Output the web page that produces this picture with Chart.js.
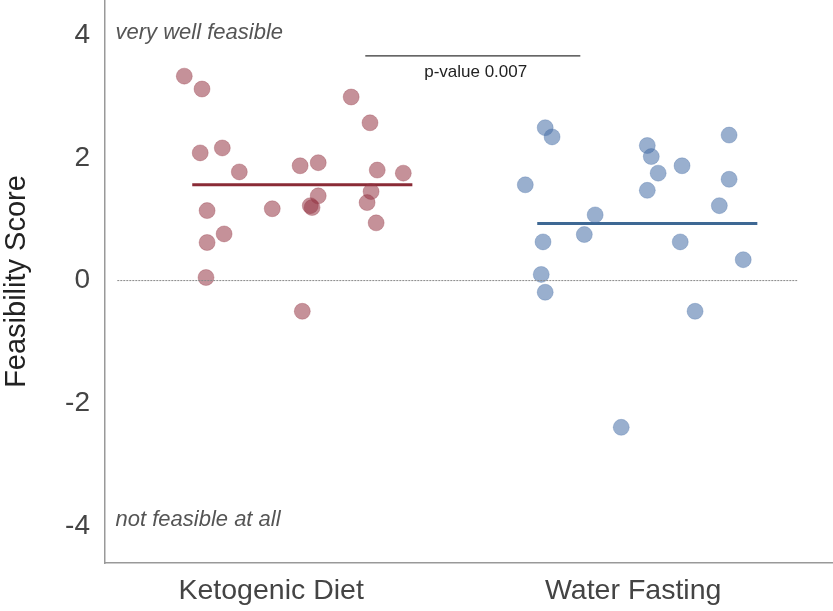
<!DOCTYPE html>
<html>
<head>
<meta charset="utf-8">
<script src="https://cdn.jsdelivr.net/npm/chart.js@4.4.1/dist/chart.umd.min.js"></script>
<style>
  html, body { margin: 0; padding: 0; background: #fff; }
  #wrap { width: 833px; height: 611px; }
</style>
</head>
<body>
<div id="wrap"><canvas id="chart" width="833" height="611"></canvas></div>
<script>
// categories sit at x = 0 and x = 1, points are jittered around them
var categories = ['Ketogenic Diet', 'Water Fasting'];

var ketoJitter = [-0.240, -0.191, -0.196, -0.135, -0.088, 0.080, 0.130, 0.221, 0.273, 0.293, 0.365,
                  -0.177, 0.003, 0.108, 0.113, 0.130, 0.276, 0.265, 0.290, -0.177, -0.130, -0.180, 0.086];
var ketoScores = [3.33, 3.12, 2.08, 2.16, 1.77, 1.87, 1.92, 2.99, 2.57, 1.80, 1.75,
                  1.14, 1.17, 1.22, 1.19, 1.38, 1.45, 1.27, 0.94, 0.62, 0.76, 0.05, -0.50];

var waterJitter = [-0.243, -0.224, -0.298, -0.105, -0.135, -0.249, -0.254, -0.243, 0.039, 0.050,
                   0.069, 0.039, 0.135, 0.265, 0.265, 0.238, 0.130, 0.304, 0.171, -0.033];
var waterScores = [2.49, 2.34, 1.56, 1.07, 0.75, 0.63, 0.10, -0.19, 2.20, 2.02,
                   1.75, 1.47, 1.87, 2.37, 1.65, 1.22, 0.63, 0.34, -0.50, -2.39];

// group means, drawn as short horizontal lines
var groupMeans = [1.56, 0.93];
var meanSpans = [[-0.218, 0.390], [0.735, 1.343]];

// significance bracket
var bracketSpan = [0.26, 0.854];
var bracketY = 3.66;
var pLabel = 'p-value 0.007';

var yTicks = [-4, -2, 0, 2, 4];
var topNote = 'very well feasible';
var bottomNote = 'not feasible at all';

function toPoints(cat, jitter, scores) {
    return scores.map(function (v, i) { return { x: cat + jitter[i], y: v }; });
}

var ketoColor = 'rgba(150, 55, 70, 0.55)';
var waterColor = 'rgba(70, 110, 165, 0.55)';
var fontFam = '"Liberation Sans", Arial, sans-serif';

var notesPlugin = {
    id: 'notes',
    afterDatasetsDraw: function (chart) {
        var ctx = chart.ctx, xs = chart.scales.x, ys = chart.scales.y;
        ctx.save();
        ctx.fillStyle = '#555';
        ctx.font = 'italic 22px ' + fontFam;
        ctx.textAlign = 'left';
        ctx.textBaseline = 'middle';
        ctx.fillText(topNote, xs.getPixelForValue(-0.43), ys.getPixelForValue(4.03));
        ctx.fillText(bottomNote, xs.getPixelForValue(-0.43), ys.getPixelForValue(-3.9));
        ctx.fillStyle = '#222';
        ctx.font = '17px ' + fontFam;
        ctx.textAlign = 'center';
        ctx.fillText(pLabel, xs.getPixelForValue((bracketSpan[0] + bracketSpan[1]) / 2 + 0.008), ys.getPixelForValue(bracketY - 0.27));
        ctx.restore();
    }
};

var ctx = document.getElementById('chart').getContext('2d');
var chart = new Chart(ctx, {
    type: 'scatter',
    data: {
        datasets: [
            {
                type: 'line',
                data: [{ x: -0.425, y: 0 }, { x: 1.453, y: 0 }],
                borderColor: '#888',
                borderWidth: 1,
                borderDash: [2, 1],
                pointRadius: 0,
                fill: false
            },
            {
                data: toPoints(0, ketoJitter, ketoScores),
                backgroundColor: ketoColor,
                borderColor: 'rgba(150, 55, 70, 0.3)',
                borderWidth: 1,
                pointRadius: 8
            },
            {
                data: toPoints(1, waterJitter, waterScores),
                backgroundColor: waterColor,
                borderColor: 'rgba(70, 110, 165, 0.3)',
                borderWidth: 1,
                pointRadius: 8
            },
            {
                type: 'line',
                data: [{ x: meanSpans[0][0], y: groupMeans[0] }, { x: meanSpans[0][1], y: groupMeans[0] }],
                borderColor: '#8a2b36',
                borderWidth: 3,
                pointRadius: 0
            },
            {
                type: 'line',
                data: [{ x: meanSpans[1][0], y: groupMeans[1] }, { x: meanSpans[1][1], y: groupMeans[1] }],
                borderColor: '#3e6894',
                borderWidth: 3,
                pointRadius: 0
            },
            {
                type: 'line',
                data: [{ x: bracketSpan[0], y: bracketY }, { x: bracketSpan[1], y: bracketY }],
                borderColor: '#333',
                borderWidth: 1.2,
                pointRadius: 0
            }
        ]
    },
    options: {
        responsive: false,
        animation: false,
        layout: { padding: 0, autoPadding: false },
        plugins: {
            legend: { display: false },
            tooltip: { enabled: false }
        },
        scales: {
            x: {
                type: 'linear',
                min: -0.459,
                max: 1.552,
                grid: { display: false, drawTicks: false },
                border: { display: true, color: '#999', width: 1.5 },
                afterBuildTicks: function (scale) {
                    scale.ticks = categories.map(function (c, i) { return { value: i }; });
                },
                ticks: {
                    color: '#444',
                    padding: 11,
                    font: { family: fontFam, size: 28.5 },
                    callback: function (v) { return categories[v]; }
                },
                afterFit: function (scale) {
                    scale.height = 48;
                    scale.paddingLeft = 0;
                    scale.paddingRight = 0;
                }
            },
            y: {
                min: -4.6,
                max: 4.57,
                grid: { display: false, drawTicks: false },
                border: { display: true, color: '#999', width: 1.5 },
                afterBuildTicks: function (scale) {
                    scale.ticks = yTicks.map(function (v) { return { value: v }; });
                },
                ticks: {
                    color: '#444',
                    padding: 15,
                    font: { family: fontFam, size: 28 }
                },
                title: {
                    display: true,
                    text: 'Feasibility Score',
                    color: '#222',
                    padding: { top: 0, bottom: 0 },
                    font: { family: fontFam, size: 29 }
                },
                afterFit: function (scale) {
                    scale.width = 105;
                    scale.paddingTop = 0;
                    scale.paddingBottom = 0;
                }
            }
        }
    },
    plugins: [notesPlugin]
});
</script>
</body>
</html>
